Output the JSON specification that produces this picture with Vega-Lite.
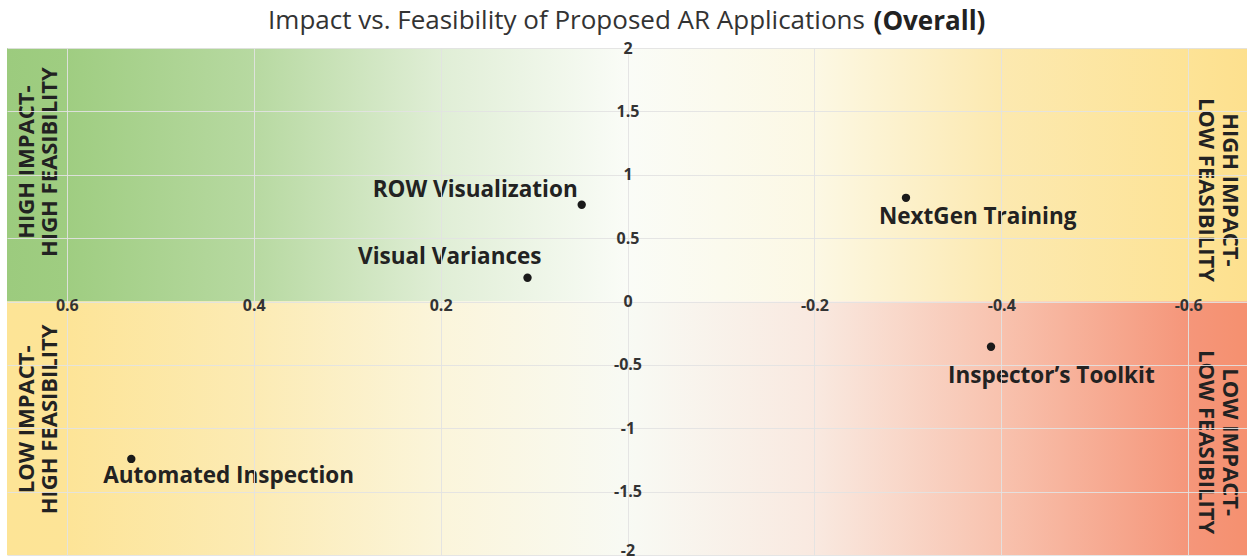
{
  "$schema": "https://vega.github.io/schema/vega-lite/v6.json",
  "width": 1241,
  "height": 507,
  "autosize": {"type": "none"},
  "padding": {"left": 7, "top": 48, "right": 0, "bottom": 5},
  "background": "white",
  "config": {"view": {"stroke": null}, "font": "Open Sans"},
  "title": {
    "text": "Impact vs. Feasibility of Proposed AR Applications",
    "font": "Open Sans",
    "fontSize": 26,
    "fontWeight": "normal",
    "color": "#333333",
    "anchor": "middle",
    "frame": "group",
    "dx": -61,
    "offset": -26
  },
  "data": {
    "values": [
      {"application": "ROW Visualization", "feasibility": 0.049, "impact": 0.763},
      {"application": "Visual Variances", "feasibility": 0.107, "impact": 0.187},
      {"application": "NextGen Training", "feasibility": -0.298, "impact": 0.818},
      {"application": "Inspector’s Toolkit", "feasibility": -0.389, "impact": -0.357},
      {"application": "Automated Inspection", "feasibility": 0.531, "impact": -1.242}
    ]
  },
  "resolve": {"axis": {"x": "independent", "y": "independent"}},
  "layer": [
    {
      "data": {"values": [{"half": "high impact"}]},
      "mark": {
        "type": "rect",
        "color": {
          "gradient": "linear", "x1": 0, "y1": 0, "x2": 1, "y2": 0,
          "stops": [
            {"offset": 0, "color": "#9ccb7e"},
            {"offset": 0.047, "color": "#9fcd81"},
            {"offset": 0.199, "color": "#b7d9a1"},
            {"offset": 0.35, "color": "#e0eed6"},
            {"offset": 0.5, "color": "#fafcf7"},
            {"offset": 0.651, "color": "#fcf8e4"},
            {"offset": 0.801, "color": "#fce9b0"},
            {"offset": 0.952, "color": "#fde396"},
            {"offset": 1, "color": "#fde08e"}
          ]
        }
      },
      "encoding": {
        "x": {
          "datum": -0.664, "type": "quantitative",
          "scale": {"domain": [-0.664, 0.664], "reverse": true, "nice": false, "zero": false},
          "axis": {
            "orient": "top", "labels": false, "ticks": false, "domain": false, "grid": false,
            "title": "(Overall)", "titleFont": "Open Sans", "titleFontSize": 26, "titleFontWeight": "bold",
            "titleColor": "#222222", "titleX": 922, "titleY": -27, "titleAlign": "center", "titleBaseline": "middle", "titleAngle": 0
          }
        },
        "x2": {"datum": 0.664},
        "y": {"datum": 0, "type": "quantitative", "scale": {"domain": [-2, 2], "nice": false}, "axis": null},
        "y2": {"datum": 2}
      }
    },
    {
      "data": {"values": [{"half": "low impact"}]},
      "mark": {
        "type": "rect",
        "color": {
          "gradient": "linear", "x1": 0, "y1": 0, "x2": 1, "y2": 0,
          "stops": [
            {"offset": 0, "color": "#fde496"},
            {"offset": 0.047, "color": "#fde497"},
            {"offset": 0.199, "color": "#fcebb4"},
            {"offset": 0.35, "color": "#fbf5db"},
            {"offset": 0.5, "color": "#f8faf4"},
            {"offset": 0.651, "color": "#f9e9e0"},
            {"offset": 0.801, "color": "#f8c2ae"},
            {"offset": 0.952, "color": "#f5967a"},
            {"offset": 1, "color": "#f5906f"}
          ]
        }
      },
      "encoding": {
        "x": {"datum": -0.664, "type": "quantitative", "axis": null},
        "x2": {"datum": 0.664},
        "y": {"datum": -2, "type": "quantitative", "axis": null},
        "y2": {"datum": 0}
      }
    },
    {
      "mark": {"type": "point", "filled": true, "shape": "circle", "size": 70, "color": "#1a1a1a", "opacity": 1},
      "encoding": {
        "x": {
          "field": "feasibility", "type": "quantitative",
          "axis": {
            "orient": "bottom", "offset": -253.5,
            "values": [-0.6, -0.4, -0.2, 0, 0.2, 0.4, 0.6],
            "labelExpr": "datum.value == 0 ? '' : toString(datum.value)",
            "ticks": false, "domain": false, "grid": true, "gridColor": "#e2e2e2", "gridOpacity": 0.9,
            "labelFont": "Open Sans", "labelFontSize": 16, "labelFontWeight": "bold", "labelColor": "#333333",
            "labelBaseline": "middle", "labelPadding": 4, "labelFlush": false, "labelOverlap": false,
            "title": null, "zindex": 1
          }
        },
        "y": {
          "field": "impact", "type": "quantitative",
          "axis": {
            "orient": "left", "offset": -620.5,
            "values": [-2, -1.5, -1, -0.5, 0, 0.5, 1, 1.5, 2],
            "labelExpr": "toString(datum.value)",
            "ticks": false, "domain": false, "grid": true, "gridColor": "#e2e2e2", "gridOpacity": 0.9,
            "labelFont": "Open Sans", "labelFontSize": 16, "labelFontWeight": "bold", "labelColor": "#333333",
            "labelAlign": "center", "labelBaseline": "middle", "labelPadding": 0, "labelFlush": false, "labelOverlap": false,
            "labelOffset": {"condition": {"test": "datum.value == -2", "value": -5}, "value": 0},
            "title": null, "zindex": 1
          }
        }
      }
    },
    {
      "transform": [{"filter": "datum.application == 'ROW Visualization'"}],
      "mark": {"type": "text", "align": "right", "baseline": "middle", "dx": -4, "dy": -15, "font": "Open Sans", "fontSize": 22.5, "fontWeight": "bold", "color": "#222222"},
      "encoding": {
        "x": {"field": "feasibility", "type": "quantitative", "axis": null},
        "y": {"field": "impact", "type": "quantitative", "axis": null},
        "text": {"field": "application"}
      }
    },
    {
      "transform": [{"filter": "datum.application == 'Visual Variances'"}],
      "mark": {"type": "text", "align": "right", "baseline": "middle", "dx": 14, "dy": -21, "font": "Open Sans", "fontSize": 22.5, "fontWeight": "bold", "color": "#222222"},
      "encoding": {
        "x": {"field": "feasibility", "type": "quantitative", "axis": null},
        "y": {"field": "impact", "type": "quantitative", "axis": null},
        "text": {"field": "application"}
      }
    },
    {
      "transform": [{"filter": "datum.application == 'NextGen Training'"}],
      "mark": {"type": "text", "align": "left", "baseline": "middle", "dx": -27, "dy": 19, "font": "Open Sans", "fontSize": 22.5, "fontWeight": "bold", "color": "#222222"},
      "encoding": {
        "x": {"field": "feasibility", "type": "quantitative", "axis": null},
        "y": {"field": "impact", "type": "quantitative", "axis": null},
        "text": {"field": "application"}
      }
    },
    {
      "transform": [{"filter": "datum.application == 'Inspector’s Toolkit'"}],
      "mark": {"type": "text", "align": "left", "baseline": "middle", "dx": -43, "dy": 29, "font": "Open Sans", "fontSize": 22.5, "fontWeight": "bold", "color": "#222222"},
      "encoding": {
        "x": {"field": "feasibility", "type": "quantitative", "axis": null},
        "y": {"field": "impact", "type": "quantitative", "axis": null},
        "text": {"field": "application"}
      }
    },
    {
      "transform": [{"filter": "datum.application == 'Automated Inspection'"}],
      "mark": {"type": "text", "align": "left", "baseline": "middle", "dx": -28, "dy": 17, "font": "Open Sans", "fontSize": 22.5, "fontWeight": "bold", "color": "#222222"},
      "encoding": {
        "x": {"field": "feasibility", "type": "quantitative", "axis": null},
        "y": {"field": "impact", "type": "quantitative", "axis": null},
        "text": {"field": "application"}
      }
    },
    {
      "data": {"values": [{"quadrant": "high impact, high feasibility"}]},
      "mark": {"type": "text", "text": ["HIGH IMPACT-", "HIGH FEASIBILITY"], "angle": 270, "align": "center", "baseline": "middle", "lineHeight": 23, "font": "Open Sans", "fontSize": 22, "fontWeight": "bold", "color": "#222222"},
      "encoding": {
        "x": {"datum": 0.643, "type": "quantitative", "axis": null},
        "y": {"datum": 1.1, "type": "quantitative", "axis": null}
      }
    },
    {
      "data": {"values": [{"quadrant": "high impact, low feasibility"}]},
      "mark": {"type": "text", "text": ["HIGH IMPACT-", "LOW FEASIBILITY"], "angle": 90, "align": "center", "baseline": "middle", "lineHeight": 24, "font": "Open Sans", "fontSize": 22, "fontWeight": "bold", "color": "#222222"},
      "encoding": {
        "x": {"datum": -0.645, "type": "quantitative", "axis": null},
        "y": {"datum": 0.88, "type": "quantitative", "axis": null}
      }
    },
    {
      "data": {"values": [{"quadrant": "low impact, high feasibility"}]},
      "mark": {"type": "text", "text": ["LOW IMPACT-", "HIGH FEASIBILITY"], "angle": 270, "align": "center", "baseline": "middle", "lineHeight": 23, "font": "Open Sans", "fontSize": 22, "fontWeight": "bold", "color": "#222222"},
      "encoding": {
        "x": {"datum": 0.643, "type": "quantitative", "axis": null},
        "y": {"datum": -0.93, "type": "quantitative", "axis": null}
      }
    },
    {
      "data": {"values": [{"quadrant": "low impact, low feasibility"}]},
      "mark": {"type": "text", "text": ["LOW IMPACT-", "LOW FEASIBILITY"], "angle": 90, "align": "center", "baseline": "middle", "lineHeight": 24, "font": "Open Sans", "fontSize": 22, "fontWeight": "bold", "color": "#222222"},
      "encoding": {
        "x": {"datum": -0.645, "type": "quantitative", "axis": null},
        "y": {"datum": -1.11, "type": "quantitative", "axis": null}
      }
    }
  ]
}
